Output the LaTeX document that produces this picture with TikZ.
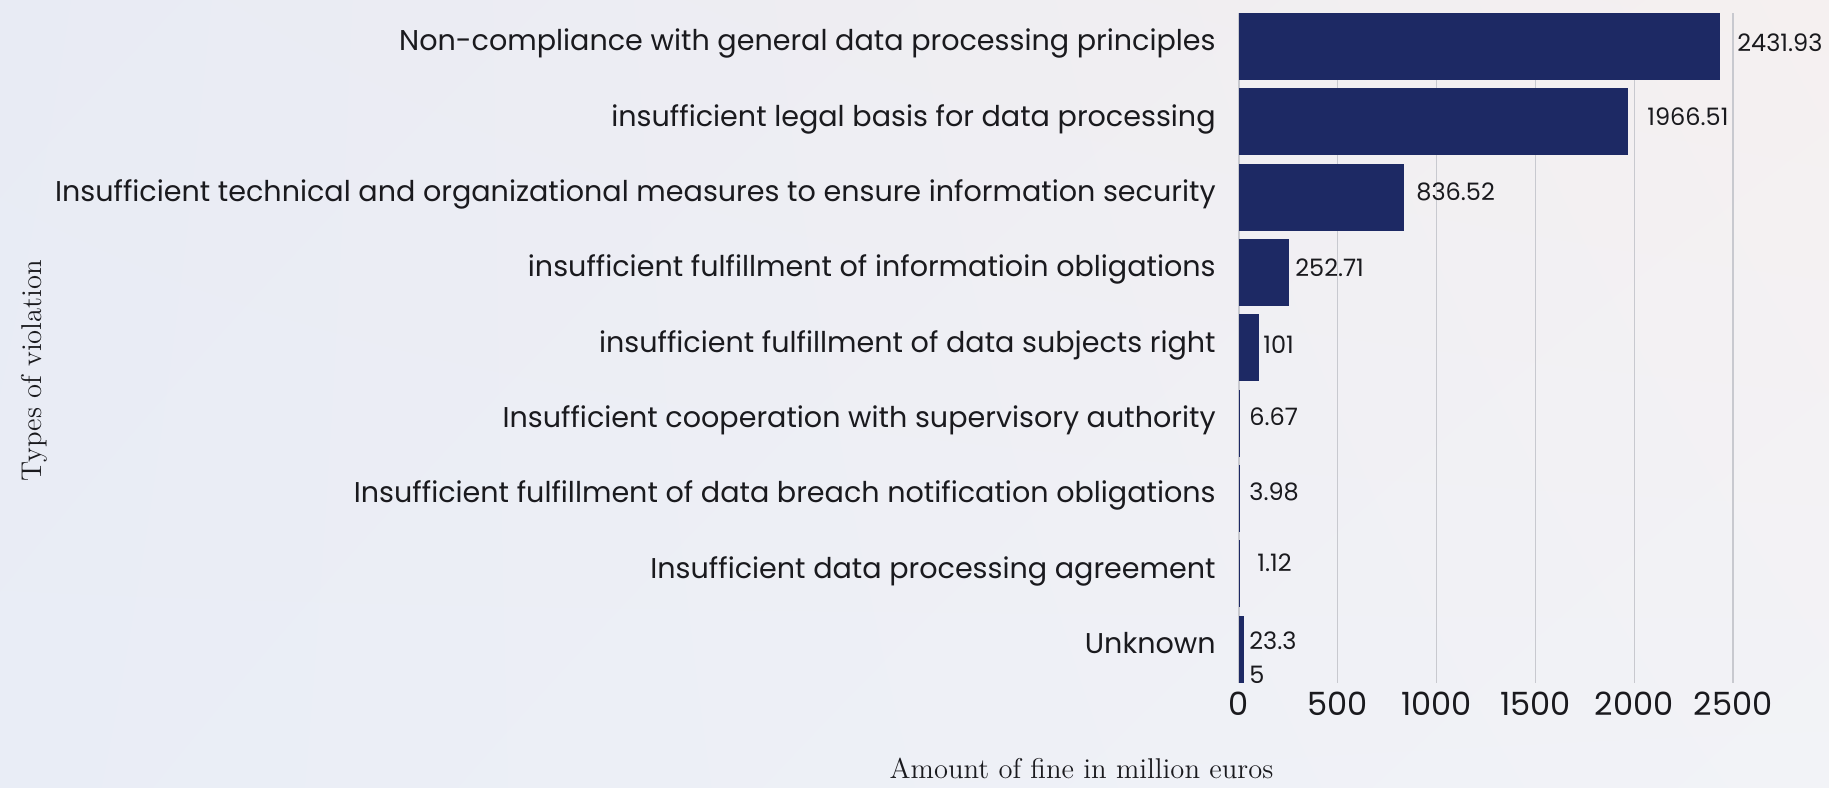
\documentclass[tikz,border=0pt]{standalone}
\usepackage{fontspec}
\usetikzlibrary{shadings}
\newfontfamily\labelfont{Poppins}[Ligatures=NoCommon]
\definecolor{barblue}{RGB}{29,41,100}
\definecolor{gridgray}{RGB}{200,201,207}
\definecolor{inktext}{RGB}{26,26,30}
\definecolor{bgul}{RGB}{232,235,244}
\definecolor{bgur}{RGB}{245,240,240}
\definecolor{bgll}{RGB}{233,237,246}
\definecolor{bglr}{RGB}{242,243,247}
\begin{document}
\begin{tikzpicture}[x=0.5pt,y=-0.5pt,
  bar/.style={fill=barblue},
  gridline/.style={draw=gridgray,line width=0.6pt},
  cat/.style={anchor=mid east,inner sep=0pt,text=inktext,font=\labelfont\fontsize{14.3}{17}\selectfont},
  val/.style={anchor=mid west,inner sep=0pt,text=inktext,font=\labelfont\fontsize{12}{14}\selectfont},
  tick/.style={anchor=mid,inner sep=0pt,text=inktext,font=\labelfont\fontsize{16}{19}\selectfont},
  axtitle/.style={inner sep=0pt,text=inktext,font=\fontsize{14.3}{17}\selectfont}]
% background
\shade[upper left=bgul,upper right=bgur,lower left=bgll,lower right=bglr]
  (0,0) rectangle (1829,787);
\useasboundingbox (0,0) rectangle (1829,787);
% vertical grid lines every 500
\foreach \k in {0,...,5}
  \draw[gridline] ({1239+98.8*\k},13) -- ({1239+98.8*\k},683);
% bars: value, row
\foreach \v/\r in {2431.93/1,1966.51/2,836.52/3,252.71/4,101/5,6.67/6,3.98/7,1.12/8,23.35/9}
  \fill[bar] (1239,{46.6+75.3*(\r-1)-33.5}) rectangle ({1239+0.1976*\v},{46.6+75.3*(\r-1)+33.5});
% category labels
\node[cat] (c1) at (1216,46.6) {Non-compliance with general data processing principles};
\node[cat] (c2) at (1216,121.9) {insufficient legal basis for data processing};
\node[cat] (c3) at (1216,197.2) {Insufficient technical and organizational measures to ensure information security};
\node[cat] (c4) at (1216,272.5) {insufficient fulfillment of informatioin obligations};
\node[cat] (c5) at (1216,347.8) {insufficient fulfillment of data subjects right};
\node[cat] (c6) at (1216,423.1) {Insufficient cooperation with supervisory authority};
\node[cat] (c7) at (1216,498.4) {Insufficient fulfillment of data breach notification obligations};
\node[cat] (c8) at (1216,573.7) {Insufficient data processing agreement};
\node[cat] (c9) at (1216,649.0) {Unknown};
% value labels
\node[val] (v1) at (1737,47) {2431.93};
\node[val] (v2) at (1647,121) {1966.51};
\node[val] (v3) at (1416,196) {836.52};
\node[val] (v4) at (1295,272) {252.71};
\node[val] (v5) at (1263,349) {101};
\node[val] (v6) at (1249,421) {6.67};
\node[val] (v7) at (1249,496) {3.98};
\node[val] (v8) at (1257,567) {1.12};
\node[val] (v9a) at (1249,645) {23.3};
\node[val] (v9b) at (1249,679) {5};
% axis tick labels
\foreach \t [count=\i from 0] in {0,500,1000,1500,2000,2500}
  \node[tick] (t\i) at ({1239+98.8*\i},711) {\t};
% axis titles
\node[axtitle,anchor=base] (xt) at (1081.5,778) {Amount of fine in million euros};
\node[axtitle,rotate=90,anchor=mid] (yt) at (37,371) {Types of violation};
\end{tikzpicture}
\end{document}
